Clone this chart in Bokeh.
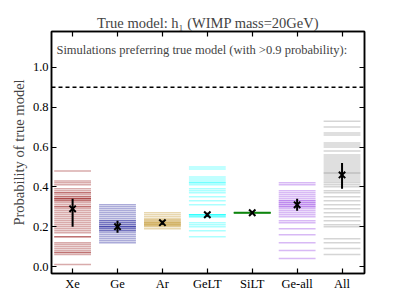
from bokeh.plotting import figure
from bokeh.models import (ColumnDataSource, FixedTicker, LinearAxis, Span, Label,
                          Range1d)
from bokeh.embed import file_html
from bokeh.resources import INLINE

categories = ["Xe", "Ge", "Ar", "GeLT", "SiLT", "Ge-all", "All"]
colors = ["#8b0000", "#00008b", "#b8860b", "#00ffff", "#008000", "#8a2be2", "#808080"]

xe_vals = [0.48, 0.43, 0.42, 0.41, 0.39, 0.38, 0.37, 0.37, 0.36, 0.35, 0.35, 0.34,
           0.34, 0.34, 0.33, 0.33, 0.32, 0.31, 0.30, 0.30, 0.29, 0.28, 0.27, 0.26,
           0.25, 0.24, 0.23, 0.22, 0.21, 0.20, 0.19, 0.18, 0.17, 0.15, 0.15, 0.12,
           0.11, 0.10, 0.09, 0.08, 0.07, 0.07, 0.06, 0.01]
ge_vals = [0.31, 0.30, 0.29, 0.28, 0.27, 0.26, 0.25, 0.24, 0.23, 0.23, 0.22, 0.22,
           0.21, 0.21, 0.20, 0.20, 0.20, 0.19, 0.19, 0.18, 0.18, 0.17, 0.16, 0.15,
           0.14, 0.13, 0.12]
ar_vals = [0.27, 0.26, 0.25, 0.24, 0.235, 0.23, 0.225, 0.22, 0.22, 0.215, 0.21,
           0.21, 0.205, 0.20, 0.19]
gelt_vals = [0.50, 0.49, 0.45, 0.44, 0.43, 0.42, 0.42, 0.41, 0.39, 0.38, 0.37,
             0.35, 0.33, 0.31, 0.26, 0.26, 0.26, 0.26, 0.25, 0.25, 0.22, 0.21,
             0.20, 0.18, 0.15]
silt_vals = [0.27, 0.27, 0.27, 0.272, 0.268, 0.27, 0.271, 0.269]
geall_vals = [0.42, 0.41, 0.38, 0.37, 0.36, 0.35, 0.34, 0.33, 0.33, 0.32, 0.32,
              0.31, 0.31, 0.30, 0.30, 0.29, 0.28, 0.27, 0.26, 0.25, 0.23, 0.22,
              0.19, 0.16, 0.12, 0.08, 0.04]
all_vals = [0.73, 0.70, 0.67, 0.66, 0.62, 0.61, 0.60, 0.58, 0.56, 0.55, 0.54,
            0.53, 0.52, 0.51, 0.50, 0.49, 0.48, 0.47, 0.47, 0.46, 0.45, 0.44,
            0.43, 0.42, 0.41, 0.40, 0.38, 0.37, 0.35, 0.33, 0.31, 0.29, 0.27,
            0.25, 0.23, 0.21, 0.20, 0.14, 0.12, 0.09, 0.06]
series = [xe_vals, ge_vals, ar_vals, gelt_vals, silt_vals, geall_vals, all_vals]

centers = [0.29, 0.20, 0.22, 0.26, 0.27, 0.31, 0.46]
err_lo = [0.20, 0.17, 0.21, 0.25, 0.265, 0.28, 0.39]
err_hi = [0.34, 0.23, 0.23, 0.27, 0.275, 0.34, 0.52]
threshold = 0.9

p = figure(frame_width=313, frame_height=242, min_border_left=51,
           min_border_right=33, min_border_top=31, min_border_bottom=25,
           output_backend="svg", toolbar_location=None,
           x_range=Range1d(-0.47, 6.5), y_range=Range1d(-0.035, 1.18))

FONT = "Liberation Serif"
p.title.text = "True model: h\u2081 (WIMP mass=20GeV)"
p.title.text_font = FONT
p.title.text_font_size = "14.5px"
p.title.text_font_style = "normal"
p.title.align = "center"
p.title.standoff = 2

half = 0.41
for i, (vals, col) in enumerate(zip(series, colors)):
    src = ColumnDataSource(dict(x0=[i - half] * len(vals), x1=[i + half] * len(vals),
                                y=vals))
    p.segment(x0="x0", x1="x1", y0="y", y1="y", source=src, line_color=col,
              line_alpha=0.33, line_width=1.5)

idx = list(range(len(categories)))
p.segment(x0=idx, x1=idx, y0=err_lo, y1=err_hi, line_color="black", line_width=2)
p.scatter(x=idx, y=centers, marker="x", size=9, line_color="black", line_width=2)

p.add_layout(Span(location=threshold, dimension="width", line_color="black",
                  line_dash="4 3", line_width=1.5))
p.add_layout(Label(x=-0.36, y=1.087, text="Simulations preferring true model (with >0.9 probability):",
                   text_font=FONT, text_font_size="12.5px", text_baseline="middle"))

p.xgrid.visible = False
p.ygrid.visible = False
p.outline_line_color = "black"
p.outline_line_width = 1.5

xt = FixedTicker(ticks=idx)
yt = FixedTicker(ticks=[0.0, 0.2, 0.4, 0.6, 0.8, 1.0])
p.xaxis.ticker = xt
p.xaxis.major_label_overrides = {i: c for i, c in enumerate(categories)}
p.yaxis.ticker = yt
p.yaxis.major_label_overrides = {0.0: "0.0", 0.2: "0.2", 0.4: "0.4", 0.6: "0.6",
                                 0.8: "0.8", 1.0: "1.0"}
p.yaxis.axis_label = "Probability of true model"

for ax in [p.xaxis[0], p.yaxis[0]]:
    ax.major_tick_in = 5
    ax.major_tick_out = 0
    ax.minor_tick_in = 0
    ax.minor_tick_out = 0
    ax.axis_line_width = 1.5
    ax.major_tick_line_width = 1.2
    ax.major_label_text_font = FONT
    ax.major_label_text_font_size = "12.5px"
    ax.major_label_text_font_style = "normal"
    ax.major_label_text_color = "black"
    ax.axis_label_text_font = FONT
    ax.axis_label_text_font_size = "14.5px"
    ax.axis_label_text_font_style = "normal"
    ax.major_label_standoff = 3
p.yaxis.axis_label_standoff = 3

right = LinearAxis(ticker=yt)
top = LinearAxis(ticker=xt)
for ax in [right, top]:
    ax.major_tick_in = 5
    ax.major_tick_out = 0
    ax.minor_tick_in = 0
    ax.minor_tick_out = 0
    ax.axis_line_width = 1.5
    ax.major_tick_line_width = 1.2
    ax.major_label_text_font_size = "0px"
    ax.major_label_standoff = 0
    ax.major_label_text_color = None
p.add_layout(right, "right")
p.add_layout(top, "above")

open("out.html", "w").write(file_html(p, INLINE))
